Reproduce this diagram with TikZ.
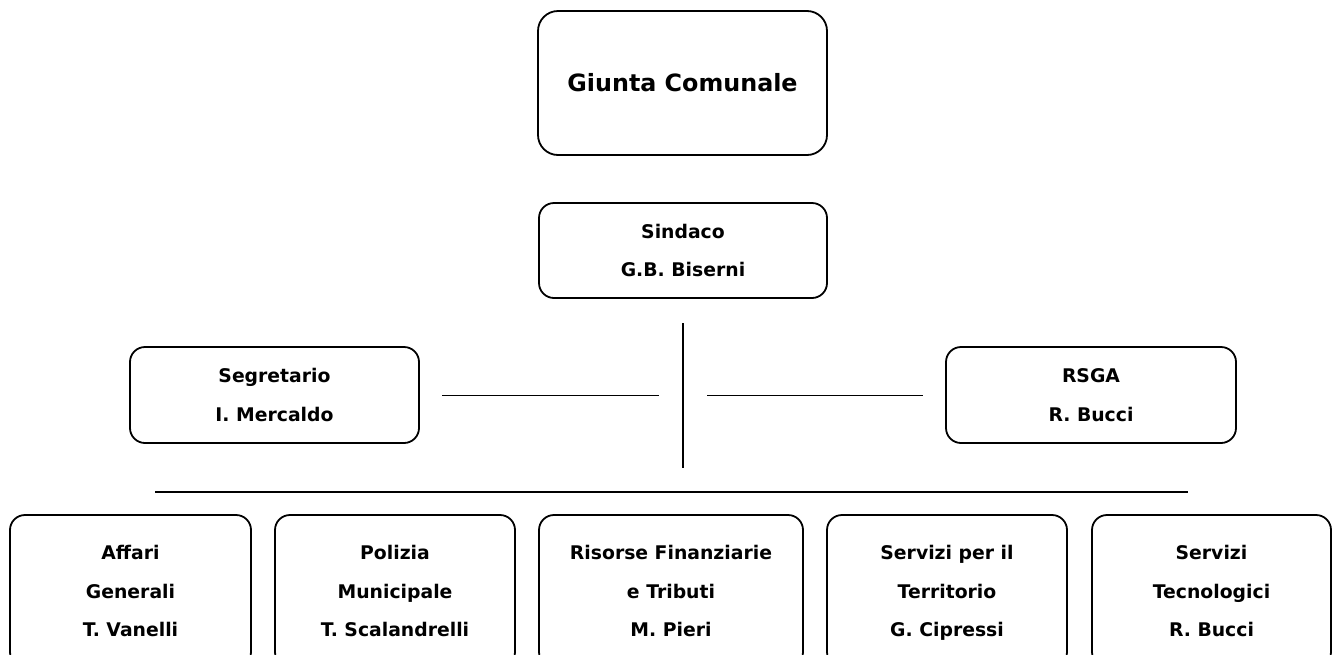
\documentclass[tikz,border=0pt]{standalone}
\usepackage{fontspec}
\setmainfont{DejaVu Sans}
\begin{document}
\begin{tikzpicture}[x=1pt,y=-1pt,
  box/.style={draw, line width=1.8pt, rounded corners=15pt, inner sep=0pt, align=center,
    font=\fontsize{18.8}{38.5}\selectfont\bfseries},
  conn/.style={line width=1.6pt},
  vconn/.style={line width=2.2pt}]
\clip (0,0) rectangle (1338,654);
\fill[white] (0,0) rectangle (1338,654);
\node[box, rounded corners=20pt, minimum width=289pt, minimum height=144pt,
  font=\fontsize{23.8}{28}\selectfont\bfseries] (giunta) at (682.5,83) {Giunta Comunale};
\node[box, minimum width=288pt, minimum height=95pt] (sindaco) at (683,250.5) {Sindaco\\G.B. Biserni};
\node[box, minimum width=289pt, minimum height=96pt] (segr) at (274.5,395) {Segretario\\I. Mercaldo};
\node[box, minimum width=290pt, minimum height=96pt] (rsga) at (1091,395) {RSGA\\R. Bucci};
\node[box, minimum width=241pt, minimum height=152pt] (b1) at (130.5,591) {Affari\\Generali\\T. Vanelli};
\node[box, minimum width=240pt, minimum height=152pt] (b2) at (395,591) {Polizia\\Municipale\\T. Scalandrelli};
\node[box, minimum width=264pt, minimum height=152pt] (b3) at (671,591) {Risorse Finanziarie\\e Tributi\\M. Pieri};
\node[box, minimum width=240pt, minimum height=152pt] (b4) at (947,591) {Servizi per il\\Territorio\\G. Ci\smash{p}ressi};
\node[box, minimum width=239pt, minimum height=152pt] (b5) at (1211.5,591) {Servizi\\Tecnologici\\R. Bucci};
\coordinate (vtop) at (683,323);
\coordinate (vbot) at (683,468);
\coordinate (l1) at (442,395.5);
\coordinate (l2) at (659,395.5);
\coordinate (r1) at (707,395.5);
\coordinate (r2) at (923,395.5);
\coordinate (h1) at (155,492);
\coordinate (h2) at (1188,492);
\draw[vconn] (vtop) -- (vbot);
\draw[conn] (l1) -- (l2);
\draw[conn] (r1) -- (r2);
\draw[conn] (h1) -- (h2);
\end{tikzpicture}
\end{document}
